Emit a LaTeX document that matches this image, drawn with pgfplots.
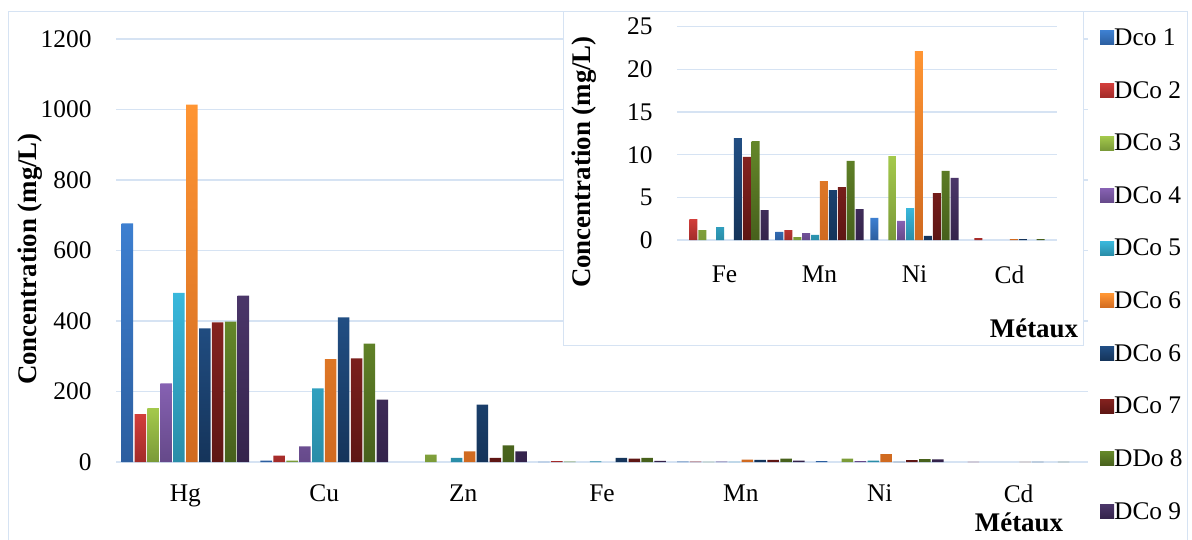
\documentclass[border=0pt]{standalone}
\usepackage{pgfplots}
\pgfplotsset{compat=1.18}
\usepackage{fontspec}
\setmainfont{Liberation Serif}
\definecolor{gridblue}{HTML}{D6E3F3}
\definecolor{cAt}{HTML}{3D7FD0}\definecolor{cAb}{HTML}{2C5E9F}
\definecolor{cBt}{HTML}{D23E3B}\definecolor{cBb}{HTML}{A22B29}
\definecolor{cCt}{HTML}{A4C94C}\definecolor{cCb}{HTML}{7A9A38}
\definecolor{cDt}{HTML}{8661B2}\definecolor{cDb}{HTML}{654989}
\definecolor{cEt}{HTML}{39B8DC}\definecolor{cEb}{HTML}{2A8DA8}
\definecolor{cFt}{HTML}{FF9533}\definecolor{cFb}{HTML}{D06A20}
\definecolor{cGt}{HTML}{214E83}\definecolor{cGb}{HTML}{15345A}
\definecolor{cHt}{HTML}{84221F}\definecolor{cHb}{HTML}{5E1614}
\definecolor{cIt}{HTML}{648729}\definecolor{cIb}{HTML}{47601C}
\definecolor{cJt}{HTML}{4B3669}\definecolor{cJb}{HTML}{34234B}
\newcommand{\bigf}{\fontsize{25.5}{25.5}\selectfont}
\newcommand{\labf}{\fontsize{27}{27}\selectfont\bfseries}
\pgfplotsset{
  sA/.style={draw=none,top color=cAt,bottom color=cAb},
  sB/.style={draw=none,top color=cBt,bottom color=cBb},
  sC/.style={draw=none,top color=cCt,bottom color=cCb},
  sD/.style={draw=none,top color=cDt,bottom color=cDb},
  sE/.style={draw=none,top color=cEt,bottom color=cEb},
  sF/.style={draw=none,top color=cFt,bottom color=cFb},
  sG/.style={draw=none,top color=cGt,bottom color=cGb},
  sH/.style={draw=none,top color=cHt,bottom color=cHb},
  sI/.style={draw=none,top color=cIt,bottom color=cIb},
  sJ/.style={draw=none,top color=cJt,bottom color=cJb},
  common/.style={
    scale only axis,
    axis line style={draw=none},
    tick style={draw=none},
    major tick length=0pt,
    ymajorgrids,
    grid style={color=gridblue,line width=1.3bp},
    ymin=0,
    /pgf/number format/assume math mode=true,
    /pgf/number format/1000 sep={},
    ticklabel style={font=\bigf},
    enlarge x limits=false,
  },
}
\begin{document}
\begin{tikzpicture}
\path[use as bounding box] (0bp,0bp) rectangle (1192bp,-540bp);
\draw[gridblue,line width=1bp] (8bp,-545bp) -- (8bp,-11bp) -- (1187bp,-11bp) -- (1187bp,-545bp);
\begin{axis}[common,
  at={(116bp,-462bp)}, anchor=south west,
  width=972bp, height=423bp,
  ymax=1200, ytick={0,200,...,1200},
  xmin=-0.5, xmax=6.5,
  xtick={0,...,6}, xticklabels={Hg,Cu,Zn,Fe,Mn,Ni,Cd},
  xticklabel shift=19bp, yticklabel shift=21bp,
  ybar=1.4bp, bar width=11.5bp,
  legend image code/.code={\fill[#1] (0bp,-7bp) rectangle (14bp,7bp);},
  legend cell align=left,
  legend style={at={(axis description cs:1.0123,1.0248)}, anchor=north west,
    draw=none, fill=none, font=\bigf, inner sep=0pt, row sep=34.3bp,
    nodes={inner sep=0pt},
    /tikz/every even column/.append style={column sep=6bp}},
]
\addplot[sA] coordinates {(0,677) (1,4) (3,0.1) (4,0.94) (5,2.58)};
\addplot[sB] coordinates {(0,136) (1,18) (3,2.46) (4,1.17) (6,0.23)};
\addplot[sC] coordinates {(0,153) (1,4) (2,21) (3,1.17) (4,0.35) (5,9.84)};
\addplot[sD] coordinates {(0,223) (1,44) (4,0.82) (5,2.23)};
\addplot[sE] coordinates {(0,480) (1,209) (2,12) (3,1.52) (4,0.59) (5,3.75)};
\addplot[sF] coordinates {(0,1014) (1,292) (2,30) (4,6.91) (5,22.15) (6,0.1)};
\addplot[sG] coordinates {(0,379) (1,410) (2,163) (3,11.95) (4,5.86) (5,0.47) (6,0.1)};
\addplot[sH] coordinates {(0,396) (1,294) (2,12) (3,9.73) (4,6.21) (5,5.5)};
\addplot[sI] coordinates {(0,398) (1,336) (2,47) (3,11.6) (4,9.26) (5,8.09) (6,0.1)};
\addplot[sJ] coordinates {(0,472) (1,177) (2,30) (3,3.5) (4,3.63) (5,7.27)};
\legend{Dco 1,DCo 2,DCo 3,DCo 4,DCo 5,DCo 6,DCo 6,DCo 7,DDo 8,DCo 9}
\end{axis}
\node[rotate=90,font=\labf] at (30bp,-259bp) {Concentration (mg/L)};
\node[font=\labf] at (1019bp,-522bp) {Métaux};
\draw[gridblue,line width=1bp,fill=white] (563bp,-11bp) rectangle (1083bp,-345bp);
\begin{axis}[common,
  at={(677bp,-240bp)}, anchor=south west,
  width=380bp, height=213.3bp,
  ymax=25, ytick={0,5,...,25},
  xmin=-0.5, xmax=3.5,
  xtick={0,...,3}, xticklabels={Fe,Mn,Ni,Cd},
  xticklabel shift=22bp, yticklabel shift=21bp,
  ybar=0.9bp, bar width=8bp,
]
\addplot[sA] coordinates {(1,0.94) (2,2.58)};
\addplot[sB] coordinates {(0,2.46) (1,1.17) (3,0.23)};
\addplot[sC] coordinates {(0,1.17) (1,0.35) (2,9.84)};
\addplot[sD] coordinates {(1,0.82) (2,2.23)};
\addplot[sE] coordinates {(0,1.52) (1,0.59) (2,3.75)};
\addplot[sF] coordinates {(1,6.91) (2,22.15) (3,0.1)};
\addplot[sG] coordinates {(0,11.95) (1,5.86) (2,0.47) (3,0.1)};
\addplot[sH] coordinates {(0,9.73) (1,6.21) (2,5.5)};
\addplot[sI] coordinates {(0,11.6) (1,9.26) (2,8.09) (3,0.1)};
\addplot[sJ] coordinates {(0,3.5) (1,3.63) (2,7.27)};
\end{axis}
\node[rotate=90,font=\labf] at (584bp,-162bp) {Concentration (mg/L)};
\node[font=\labf] at (1034bp,-328bp) {Métaux};
\end{tikzpicture}
\end{document}
